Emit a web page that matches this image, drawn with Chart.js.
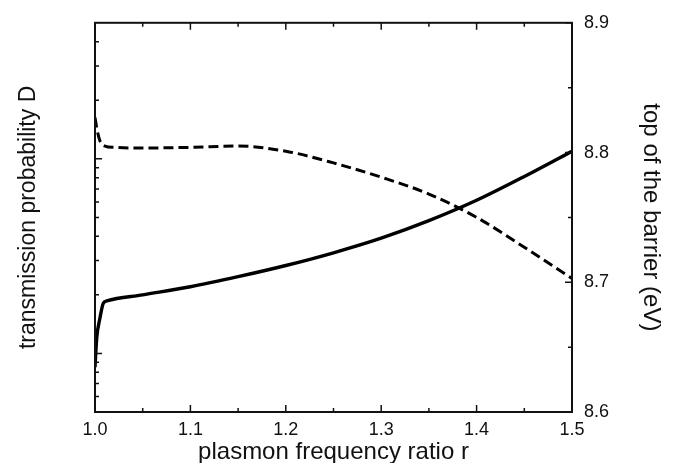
<!DOCTYPE html>
<html>
<head>
<meta charset="utf-8">
<script src="https://cdn.jsdelivr.net/npm/chart.js@4"></script>
<style>
  html, body { margin: 0; padding: 0; background: #fff; }
  #wrap { width: 681px; height: 463px; }
</style>
</head>
<body>
<div id="wrap"><canvas id="c" width="681" height="463"></canvas></div>
<script>
// ---- data ----
// solid curve: transmission probability D (left, logarithmic axis)
const rD = [1.0, 1.0018, 1.0052, 1.0087, 1.0123, 1.05, 1.1, 1.15, 1.2, 1.25, 1.3, 1.35, 1.4, 1.45, 1.5];
const D  = [8.5e-4, 1.2e-3, 1.52e-3, 1.81e-3, 1.86e-3, 2.0e-3, 2.2e-3, 2.48e-3, 2.83e-3, 3.29e-3, 3.91e-3, 4.81e-3, 6.12e-3, 8.11e-3, 1.094e-2];
// dashed curve: top of the barrier in eV (right axis)
const rB = [1.0, 1.0018, 1.0052, 1.0105, 1.02, 1.05, 1.1, 1.15, 1.2, 1.25, 1.3, 1.35, 1.4, 1.45, 1.5];
const B  = [8.827, 8.819, 8.809, 8.805, 8.804, 8.8035, 8.804, 8.805, 8.801, 8.792, 8.781, 8.768, 8.750, 8.727, 8.703];

// tick values
const xMajor = [1.0, 1.1, 1.2, 1.3, 1.4, 1.5];
const xMinor = [1.05, 1.15, 1.25, 1.35, 1.45];
const bMajor = [8.6, 8.7, 8.8, 8.9];
const bMinor = [8.65, 8.75, 8.85];
const dMajor = [1e-3, 1e-2];
const dMinor = [6e-4, 7e-4, 8e-4, 9e-4, 2e-3, 3e-3, 4e-3, 5e-3, 6e-3, 7e-3, 8e-3, 9e-3, 2e-2, 3e-2, 4e-2];

const FONT = "'Liberation Sans', Arial, Helvetica, sans-serif";
const INK = '#111';

const framePlugin = {
  id: 'frameTicks',
  afterDraw(chart) {
    const ctx = chart.ctx;
    const a = chart.chartArea;
    const sx = chart.scales.x, sd = chart.scales.yD, sb = chart.scales.yB;
    const MAJ = 7, MIN = 4;
    ctx.save();
    ctx.strokeStyle = INK;
    ctx.lineWidth = 1.5;
    ctx.beginPath();
    const xt = (v, len) => {
      const p = sx.getPixelForValue(v);
      ctx.moveTo(p, a.bottom); ctx.lineTo(p, a.bottom - len);
      ctx.moveTo(p, a.top); ctx.lineTo(p, a.top + len);
    };
    xMajor.forEach(v => xt(v, MAJ));
    xMinor.forEach(v => xt(v, MIN));
    const bt = (v, len) => {
      const p = sb.getPixelForValue(v);
      ctx.moveTo(a.right, p); ctx.lineTo(a.right - len, p);
    };
    bMajor.forEach(v => bt(v, MAJ));
    bMinor.forEach(v => bt(v, MIN));
    const dt = (v, len) => {
      const p = sd.getPixelForValue(v);
      ctx.moveTo(a.left, p); ctx.lineTo(a.left + len, p);
    };
    dMajor.forEach(v => dt(v, MAJ));
    dMinor.forEach(v => dt(v, MIN));
    ctx.stroke();
    ctx.lineWidth = 2;
    ctx.strokeRect(a.left, a.top, a.right - a.left, a.bottom - a.top);
    ctx.restore();
  }
};

new Chart(document.getElementById('c'), {
  type: 'line',
  data: {
    datasets: [
      {
        label: 'transmission probability D',
        data: rD.map((x, i) => ({ x, y: D[i] })),
        yAxisID: 'yD',
        borderColor: '#000',
        borderWidth: 3.4,
        pointRadius: 0,
        fill: false,
        cubicInterpolationMode: 'monotone'
      },
      {
        label: 'top of the barrier (eV)',
        data: rB.map((x, i) => ({ x, y: B[i] })),
        yAxisID: 'yB',
        borderColor: '#000',
        borderWidth: 3,
        borderDash: [10, 5],
        pointRadius: 0,
        fill: false,
        cubicInterpolationMode: 'monotone'
      }
    ]
  },
  options: {
    responsive: false,
    animation: false,
    devicePixelRatio: 1,
    layout: { padding: { top: 17, left: 0, right: 0, bottom: 0 } },
    plugins: { legend: { display: false }, tooltip: { enabled: false } },
    scales: {
      x: {
        type: 'linear', position: 'bottom', min: 1.0, max: 1.5,
        afterFit: s => { s.height = 51; },
        afterBuildTicks: s => { s.ticks = xMajor.map(v => ({ value: v })); },
        grid: { display: false, drawTicks: false },
        border: { display: false },
        ticks: { color: INK, padding: 7, maxRotation: 0, autoSkip: false,
                 font: { family: FONT, size: 18 }, callback: v => Number(v).toFixed(1) },
        title: { display: true, text: 'plasmon frequency ratio r', color: INK,
                 font: { family: FONT, size: 24, lineHeight: 0.9 }, padding: { top: 0, bottom: 0 } }
      },
      yD: {
        type: 'logarithmic', position: 'left', min: 5e-4, max: 5e-2,
        afterFit: s => { s.width = 95; },
        grid: { display: false, drawTicks: false },
        border: { display: false },
        ticks: { display: false },
        title: { display: true, text: 'transmission probability D', color: INK,
                 font: { family: FONT, size: 23, lineHeight: 1.2 }, padding: { top: 15, bottom: 0 } }
      },
      yB: {
        type: 'linear', position: 'right', min: 8.6, max: 8.9,
        afterFit: s => { s.width = 109; },
        afterBuildTicks: s => { s.ticks = bMajor.map(v => ({ value: v })); },
        grid: { display: false, drawTicks: false },
        border: { display: false },
        ticks: { color: INK, padding: 12, font: { family: FONT, size: 18 },
                 callback: v => Number(v).toFixed(1) },
        title: { display: true, text: 'top of the barrier (eV)', color: INK,
                 font: { family: FONT, size: 24, lineHeight: 1.2 }, padding: { top: 16, bottom: 0 } }
      }
    }
  },
  plugins: [framePlugin]
});
</script>
</body>
</html>
